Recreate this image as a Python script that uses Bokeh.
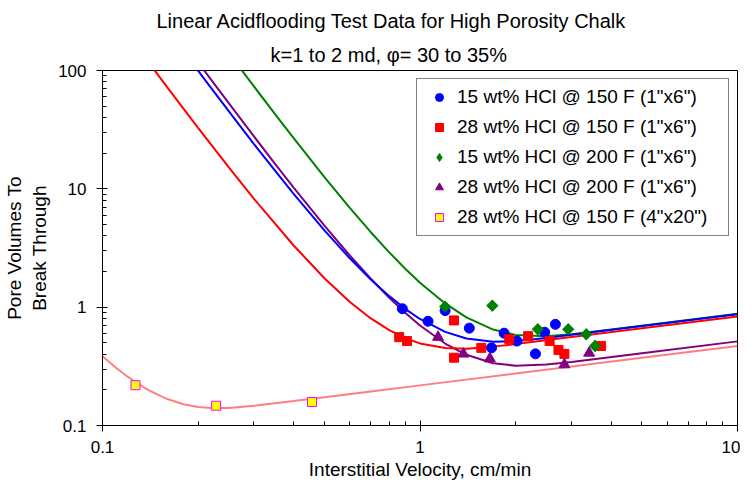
from bokeh.plotting import figure
from bokeh.models import FixedTicker, CustomJSTickFormatter, Title
from bokeh.embed import file_html
from bokeh.resources import INLINE

FONT = "Liberation Sans"

# ---- measured data points (interstitial velocity cm/min, PV to breakthrough) ----
v_15_150 = [0.88, 1.06, 1.20, 1.43, 1.68, 1.84, 2.02, 2.31, 2.47, 2.67]
pv_15_150 = [0.97, 0.76, 0.935, 0.665, 0.453, 0.603, 0.517, 0.403, 0.614, 0.716]

v_28_150 = [0.86, 0.91, 1.28, 1.28, 1.56, 1.91, 2.19, 2.56, 2.73, 2.85, 3.72]
pv_28_150 = [0.558, 0.517, 0.773, 0.374, 0.453, 0.537, 0.569, 0.517, 0.435, 0.403, 0.47]

v_15_200 = [1.20, 1.69, 2.35, 2.93, 3.34, 3.56]
pv_15_200 = [1.01, 1.03, 0.65, 0.65, 0.59, 0.47]

v_28_200 = [1.14, 1.37, 1.66, 2.85, 3.41]
pv_28_200 = [0.558, 0.403, 0.367, 0.327, 0.41]

v_28_150_big = [0.127, 0.228, 0.457]
pv_28_150_big = [0.219, 0.147, 0.158]

# ---- fitted trend curves ----
cx_red = [0.14, 0.16, 0.2, 0.25, 0.3, 0.4, 0.5, 0.6, 0.7, 0.8, 0.9, 1.0, 1.2, 1.4, 1.7, 2, 3, 5, 10]
cy_red = [116.1, 72.1, 32.8, 15.18, 8.24, 3.32, 1.755, 1.112, 0.803, 0.639, 0.546, 0.494, 0.451, 0.446, 0.464, 0.488, 0.559, 0.663, 0.835]

cx_blue = [0.19, 0.22, 0.26, 0.3, 0.35, 0.4, 0.5, 0.6, 0.7, 0.8, 0.9, 1.0, 1.2, 1.4, 1.7, 2.0, 2.5, 3, 5, 10]
cy_blue = [119.5, 70.9, 39.4, 23.9, 14.15, 9.07, 4.46, 2.60, 1.714, 1.239, 0.964, 0.795, 0.618, 0.543, 0.510, 0.517, 0.550, 0.584, 0.692, 0.872]

cx_green = [0.26, 0.28, 0.3, 0.35, 0.4, 0.5, 0.6, 0.7, 0.8, 0.9, 1.0, 1.2, 1.4, 1.7, 2.0, 2.5, 3, 4, 5, 10]
cy_green = [122, 93.6, 73.3, 42.6, 26.8, 12.57, 6.94, 4.30, 2.905, 2.104, 1.611, 1.076, 0.820, 0.647, 0.583, 0.568, 0.591, 0.648, 0.698, 0.879]

cx_purple = [0.2, 0.22, 0.26, 0.3, 0.35, 0.4, 0.5, 0.6, 0.7, 0.8, 0.9, 1.0, 1.2, 1.4, 1.7, 2.0, 2.5, 3, 5, 10]
cy_purple = [117.5, 83.4, 46.0, 27.7, 16.2, 10.26, 4.886, 2.747, 1.737, 1.201, 0.891, 0.700, 0.493, 0.396, 0.336, 0.320, 0.327, 0.344, 0.408, 0.514]

cx_pink = [0.1, 0.11, 0.12, 0.13, 0.14, 0.16, 0.18, 0.2, 0.22, 0.25, 0.3, 0.4, 0.5, 0.7, 1, 2, 5, 10]
cy_pink = [0.385, 0.309, 0.2585, 0.2233, 0.1983, 0.1673, 0.1512, 0.1433, 0.1403, 0.1407, 0.1466, 0.1609, 0.1733, 0.1939, 0.2183, 0.2751, 0.3734, 0.4704]

x_major = [0.1, 1, 10]
x_minor = [0.2, 0.3, 0.4, 0.5, 0.6, 0.7, 0.8, 0.9, 2, 3, 4, 5, 6, 7, 8, 9]
y_major = [0.1, 1, 10, 100]
y_minor = [0.2, 0.3, 0.4, 0.5, 0.6, 0.7, 0.8, 0.9, 2, 3, 4, 5, 6, 7, 8, 9,
           20, 30, 40, 50, 60, 70, 80, 90]

labels = ['15 wt% HCl @ 150 F (1"x6")', '28 wt% HCl @ 150 F (1"x6")',
          '15 wt% HCl @ 200 F (1"x6")', '28 wt% HCl @ 200 F (1"x6")',
          '28 wt% HCl @ 150 F (4"x20")']

title_line1 = "Linear Acidflooding Test Data for High Porosity Chalk"
title_line2 = "k=1 to 2 md, \u03c6= 30 to 35%"

p = figure(width=740, height=486, x_axis_type="log", y_axis_type="log",
           x_range=(0.1, 10), y_range=(0.1, 100), output_backend="svg",
           toolbar_location=None, title=None,
           min_border_left=101, min_border_right=3, min_border_top=70, min_border_bottom=61)
p.xgrid.visible = False
p.ygrid.visible = False
p.outline_line_color = "black"
p.outline_line_width = 1
p.background_fill_color = "white"
p.border_fill_color = "white"

for ax in (p.xaxis[0], p.yaxis[0]):
    ax.axis_line_color = "black"
    ax.major_tick_line_color = "black"
    ax.minor_tick_line_color = "black"
    ax.major_tick_in = 5
    ax.major_tick_out = 6
    ax.minor_tick_in = 4
    ax.minor_tick_out = 0
    ax.major_label_text_font = FONT
    ax.major_label_text_font_size = "17px"
    ax.major_label_text_color = "black"
    ax.axis_label_text_font = FONT
    ax.axis_label_text_font_size = "19px"
    ax.axis_label_text_font_style = "normal"
    ax.axis_label_text_color = "black"
    ax.formatter = CustomJSTickFormatter(code="return String(tick);")

p.xaxis[0].ticker = FixedTicker(ticks=x_major, minor_ticks=x_minor)
p.yaxis[0].ticker = FixedTicker(ticks=y_major, minor_ticks=y_minor)
p.xaxis[0].major_label_standoff = 9
p.xaxis[0].axis_label_standoff = 3
p.yaxis[0].major_label_standoff = 10
p.yaxis[0].axis_label_standoff = 5
p.xaxis[0].axis_label = "Interstitial Velocity, cm/min"
p.yaxis[0].axis_label = "Pore Volumes To\nBreak Through"

# curves
p.line(cx_pink, cy_pink, line_color="#FF7F7F", line_width=2)
p.line(cx_purple, cy_purple, line_color="#800080", line_width=2)
p.line(cx_green, cy_green, line_color="#008000", line_width=2)
p.line(cx_red, cy_red, line_color="#FF0000", line_width=2)
p.line(cx_blue, cy_blue, line_color="#0000FF", line_width=2)

# markers
p.scatter(v_15_150, pv_15_150, marker="circle", size=10, fill_color="#0000FF",
          line_color="#0000FF", legend_label=labels[0])
p.scatter(v_28_150, pv_28_150, marker="square", size=9, fill_color="#FF0000",
          line_color="#FF0000", legend_label=labels[1])
# diamond glyph (for the legend), covered by a rotated square of the same colour
p.scatter(v_15_200, pv_15_200, marker="diamond", size=11, fill_color="#008000",
          line_color="#008000", legend_label=labels[2])
p.scatter(v_15_200, pv_15_200, marker="square", size=8, angle=0.785398,
          fill_color="#008000", line_color="#008000")
p.scatter(v_28_200, pv_28_200, marker="triangle", size=11, fill_color="#800080",
          line_color="#800080", legend_label=labels[3])
p.scatter(v_28_150_big, pv_28_150_big, marker="square", size=9, fill_color="#FFFF00",
          line_color="#FF00FF", line_width=1, legend_label=labels[4])

lg = p.legend[0]
lg.location = "top_right"
lg.margin = 8
lg.padding = 7
lg.spacing = 8
lg.glyph_width = 30
lg.glyph_height = 20
lg.label_standoff = 3
lg.label_width = 264
lg.label_text_font = FONT
lg.label_text_font_size = "19px"
lg.label_text_color = "black"
lg.border_line_color = "black"
lg.border_line_width = 1
lg.background_fill_color = "white"
lg.background_fill_alpha = 1

# two-line title: the first one added sits closest to the plot
p.add_layout(Title(text=title_line2, align="left", offset=168,
                   text_font=FONT, text_font_size="20px", text_font_style="normal",
                   text_color="black"), "above")
p.add_layout(Title(text=title_line1, align="left", offset=54,
                   text_font=FONT, text_font_size="20px", text_font_style="normal",
                   text_color="black"), "above")

open("out.html", "w").write(file_html(p, INLINE))
